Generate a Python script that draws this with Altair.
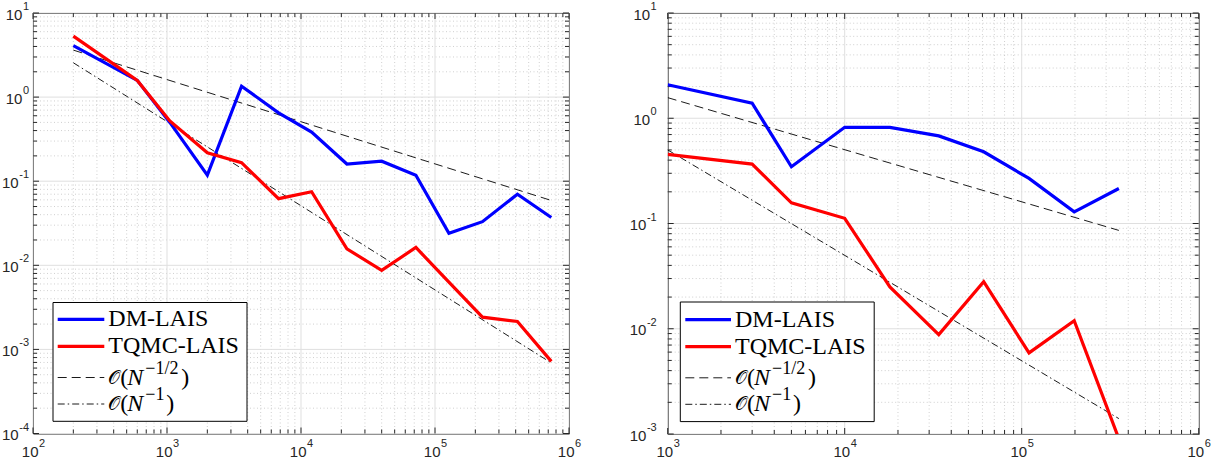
import altair as alt
import pandas as pd

# ---------------- data ----------------
# left panel
L_N = [200, 600, 1050, 2000, 3600, 6800, 12000, 22000, 40000, 72000, 127000, 226000, 412000, 738000]
L_DM = [4.1, 1.58, 0.5, 0.118, 1.35, 0.65, 0.384, 0.16, 0.173, 0.118, 0.024, 0.033, 0.070, 0.037]
L_TQ = [5.3, 1.58, 0.52, 0.218, 0.166, 0.062, 0.075, 0.0157, 0.0087, 0.0163, 0.0063, 0.00242, 0.00215, 0.00072]
L_REF_N = [200, 738000]
L_HALF = [3.62, 0.059]
L_ONE = [2.56, 0.00069]

# right panel
R_N = [1000, 3000, 5000, 10000, 18000, 34000, 61000, 110000, 198000, 354000]
R_DM = [2.08, 1.39, 0.346, 0.82, 0.82, 0.68, 0.48, 0.268, 0.129, 0.215]
R_TQ = [0.454, 0.367, 0.157, 0.112, 0.025, 0.0088, 0.028, 0.0059, 0.0119, 0.0009]
R_REF_N = [1000, 354000]
R_HALF = [1.57, 0.086]
R_ONE = [0.50, 0.0014]

LEGEND_LABELS = ["DM-LAIS", "TQMC-LAIS"]

# tick exponents (labels are 10^e)
L_XEXP = [2, 3, 4, 5, 6]
L_YEXP = [-4, -3, -2, -1, 0, 1]
R_XEXP = [3, 4, 5, 6]
R_YEXP = [-3, -2, -1, 0, 1]

# ---------------- styling ----------------
AXC = "#262626"
MAJOR_GRID = "#dfdfdf"
MINOR_GRID = "#c4c4c4"
TICKFONT = "Liberation Sans"
BASE_FS = 15
EXP_FS = 11


def minors(exps):
    out = []
    for e in exps[:-1]:
        for k in range(2, 10):
            out.append(k * 10.0 ** e)
    return out


def one_row():
    return pd.DataFrame({"a": [0]})


def panel(xexp, yexp, W, H, n_dm, dm, n_tq, tq, ref_n, half, one, leg, ygap):
    xdom = [10.0 ** xexp[0], 10.0 ** xexp[-1]]
    ydom = [10.0 ** yexp[0], 10.0 ** yexp[-1]]
    xs = alt.Scale(type="log", domain=xdom)
    ys = alt.Scale(type="log", domain=ydom)
    xmaj = [10.0 ** e for e in xexp]
    ymaj = [10.0 ** e for e in yexp]
    xmin, ymin = minors(xexp), minors(yexp)

    def X(f="v"):
        return alt.X(f"{f}:Q", scale=xs, axis=None)

    def Y(f="v"):
        return alt.Y(f"{f}:Q", scale=ys, axis=None)

    layers = []
    dxmin = pd.DataFrame({"v": xmin})
    dymin = pd.DataFrame({"v": ymin})
    dxmaj = pd.DataFrame({"v": xmaj})
    dymaj = pd.DataFrame({"v": ymaj})
    # minor grid
    layers.append(alt.Chart(dxmin).mark_rule(color=MINOR_GRID, strokeWidth=0.8, strokeDash=[1, 2.5])
                  .encode(x=X(), y=alt.value(0), y2=alt.value(H)))
    layers.append(alt.Chart(dymin).mark_rule(color=MINOR_GRID, strokeWidth=0.8, strokeDash=[1, 2.5])
                  .encode(y=Y(), x=alt.value(0), x2=alt.value(W)))
    # major grid
    layers.append(alt.Chart(dxmaj).mark_rule(color=MAJOR_GRID, strokeWidth=1)
                  .encode(x=X(), y=alt.value(0), y2=alt.value(H)))
    layers.append(alt.Chart(dymaj).mark_rule(color=MAJOR_GRID, strokeWidth=1)
                  .encode(y=Y(), x=alt.value(0), x2=alt.value(W)))
    # inner ticks on all four sides
    for d, ln in ((dxmaj, 6), (dxmin, 4)):
        layers.append(alt.Chart(d).mark_rule(color=AXC, strokeWidth=1)
                      .encode(x=X(), y=alt.value(H - ln), y2=alt.value(H)))
        layers.append(alt.Chart(d).mark_rule(color=AXC, strokeWidth=1)
                      .encode(x=X(), y=alt.value(0), y2=alt.value(ln)))
    for d, ln in ((dymaj, 6), (dymin, 4)):
        layers.append(alt.Chart(d).mark_rule(color=AXC, strokeWidth=1)
                      .encode(y=Y(), x=alt.value(0), x2=alt.value(ln)))
        layers.append(alt.Chart(d).mark_rule(color=AXC, strokeWidth=1)
                      .encode(y=Y(), x=alt.value(W - ln), x2=alt.value(W)))

    # tick labels: "10" plus raised exponent
    dxl = pd.DataFrame({"v": xmaj, "s": [str(e) for e in xexp]})
    layers.append(alt.Chart(dxl).mark_text(align="right", baseline="middle", font=TICKFONT,
                                           fontSize=BASE_FS, color=AXC, dx=5.5)
                  .encode(x=X(), y=alt.value(H + 18), text=alt.value("10")))
    layers.append(alt.Chart(dxl).mark_text(align="left", baseline="middle", font=TICKFONT,
                                           fontSize=EXP_FS, color=AXC, dx=6, dy=-8)
                  .encode(x=X(), y=alt.value(H + 18), text="s:N"))
    for neg, ew in ((True, 9.8), (False, 6.1)):
        sel = [e for e in yexp if (e < 0) == neg]
        if not sel:
            continue
        dyl = pd.DataFrame({"v": [10.0 ** e for e in sel], "s": [str(e) for e in sel]})
        layers.append(alt.Chart(dyl).mark_text(align="right", baseline="middle", font=TICKFONT,
                                               fontSize=EXP_FS, color=AXC, dy=-6)
                      .encode(y=Y(), x=alt.value(-ygap), text="s:N"))
        layers.append(alt.Chart(dyl).mark_text(align="right", baseline="middle", font=TICKFONT,
                                               fontSize=BASE_FS, color=AXC, dy=1.5)
                      .encode(y=Y(), x=alt.value(-ygap - ew - 0.5), text=alt.value("10")))

    # reference slopes
    dref = pd.DataFrame({"n": ref_n, "half": half, "one": one})
    layers.append(alt.Chart(dref).mark_line(color="black", strokeWidth=0.9, strokeDash=[9, 5], clip=True)
                  .encode(x=X("n"), y=Y("half")))
    layers.append(alt.Chart(dref).mark_line(color="black", strokeWidth=0.9, strokeDash=[7, 3, 1.5, 3], clip=True)
                  .encode(x=X("n"), y=Y("one")))
    # data series
    ddm = pd.DataFrame({"n": n_dm, "e": dm})
    dtq = pd.DataFrame({"n": n_tq, "e": tq})
    layers.append(alt.Chart(ddm).mark_line(color="#0000ff", strokeWidth=3.2, clip=True)
                  .encode(x=X("n"), y=Y("e")))
    layers.append(alt.Chart(dtq).mark_line(color="#ff0000", strokeWidth=3.2, clip=True)
                  .encode(x=X("n"), y=Y("e")))

    # legend
    bx0, bx1, by0, by1, lx0, lx1, tx, rows = leg
    layers.append(alt.Chart(one_row()).mark_rect(fill="white", stroke="black", strokeWidth=1)
                  .encode(x=alt.value(bx0), x2=alt.value(bx1), y=alt.value(by0), y2=alt.value(by1)))
    samples = [("#0000ff", 3.2, None), ("#ff0000", 3.2, None), ("black", 0.9, [9, 5]),
               ("black", 0.9, [7, 3, 1.5, 3])]
    for (col, sw, dash), ry in zip(samples, rows):
        kw = dict(color=col, strokeWidth=sw)
        if dash:
            kw["strokeDash"] = dash
        layers.append(alt.Chart(one_row()).mark_rule(**kw)
                      .encode(x=alt.value(lx0), x2=alt.value(lx1), y=alt.value(ry)))
    for lab, ry in zip(LEGEND_LABELS, rows[:2]):
        layers.append(alt.Chart(pd.DataFrame({"t": [lab]}))
                      .mark_text(align="left", baseline="middle", font="Liberation Serif",
                                 fontSize=24, color="black")
                      .encode(x=alt.value(tx), y=alt.value(ry), text="t:N"))
    math_rows = [
        (rows[2], [("𝒪", 0, 0, 19, "normal"), ("(", 12, 0, 24, "normal"), ("N", 19, 0, 24, "italic"),
                   ("−1/2", 37, -9, 18, "normal"), (")", 73, 0, 24, "normal")]),
        (rows[3], [("𝒪", 0, 0, 19, "normal"), ("(", 12, 0, 24, "normal"), ("N", 19, 0, 24, "italic"),
                   ("−1", 37, -9, 18, "normal"), (")", 58, 0, 24, "normal")]),
    ]
    for ry, pieces in math_rows:
        for txt, dx, dy, fs, st in pieces:
            layers.append(alt.Chart(pd.DataFrame({"t": [txt]}))
                          .mark_text(align="left", baseline="middle",
                                     font="Liberation Serif, DejaVu Serif, DejaVu Sans",
                                     fontSize=fs, fontStyle=st, color="black")
                          .encode(x=alt.value(tx + dx), y=alt.value(ry + dy), text="t:N"))

    return alt.layer(*layers).properties(width=W, height=H)


left = panel(L_XEXP, L_YEXP, 536, 420.5, L_N, L_DM, L_N, L_TQ, L_REF_N, L_HALF, L_ONE,
             (20, 214, 289.5, 408.3, 24.7, 71.3, 75.3, [306.3, 333.3, 364.5, 391]), 4)
right = panel(R_XEXP, R_YEXP, 531, 421, R_N, R_DM, R_N, R_TQ, R_REF_N, R_HALF, R_ONE,
              (12.6, 206.5, 289, 408.6, 17.6, 63.3, 67.3, [306.6, 333.6, 364.8, 391.3]), 11)

chart = (alt.hconcat(left, right, spacing=98.7, bounds="flush")
         .properties(padding={"left": 1, "top": 0, "right": 0, "bottom": 0}, background="white")
         .configure_view(stroke=AXC, strokeWidth=1))

chart.save("out.html", embed_options={"renderer": "svg", "actions": False})
